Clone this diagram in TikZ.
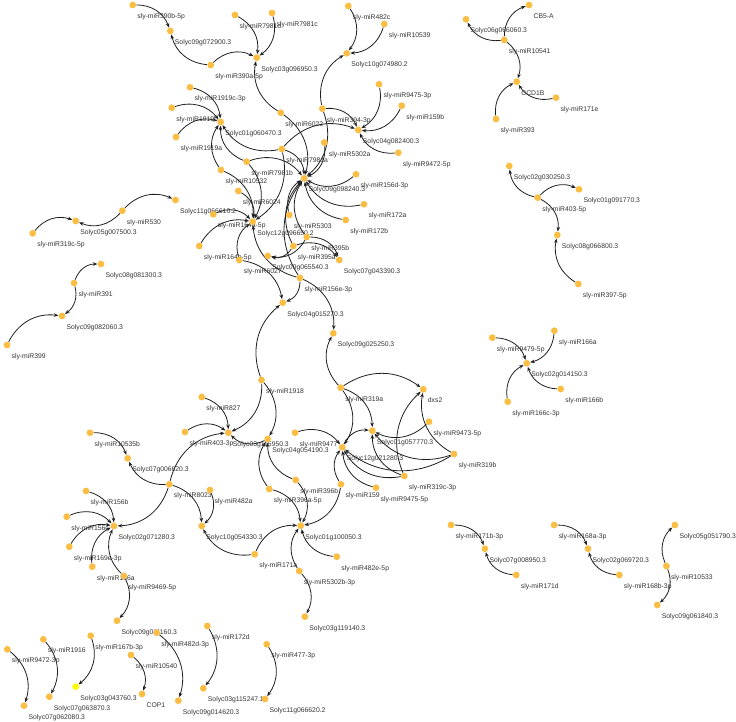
\documentclass[tikz,border=0pt]{standalone}
\usepackage{fontspec}
\newfontfamily\lblfont{Liberation Sans}
\usetikzlibrary{arrows.meta,backgrounds}
\definecolor{nodeor}{HTML}{FBBE45}
\definecolor{nodeyl}{HTML}{FFFF00}
\definecolor{lblc}{HTML}{333333}
\newcommand\vtx[4][v]{\node[#1,label={[lb]below right:#4}] (#2) at (#3) {};}
\begin{document}
\begin{tikzpicture}[x=1pt,y=-1pt,
  v/.style={circle,fill=nodeor,draw=none,inner sep=0pt,minimum size=6.8pt},
  vy/.style={v,fill=nodeyl},
  lb/.style={inner sep=0pt,label distance=0pt,xshift=1.9pt,yshift=-5.9pt,font=\lblfont\fontsize{6.8}{8}\selectfont,text=lblc},
  e/.style={-{Stealth[length=4.6pt,width=3.6pt]},line width=0.8pt,draw=black!88,bend left=35}]
\useasboundingbox (0,0) rectangle (736,722);
% top-left cluster
\vtx{m390b}{132.7,5}{sly-miR390b-5p}
\vtx{g09g072900}{170.3,31}{Solyc09g072900.3}
\vtx{m390a}{210.7,65}{sly-miR390a-5p}
\vtx{m7981d}{235,15}{sly-miR7981d}
\vtx{m7981c}{272,13}{sly-miR7981c}
\vtx{g03g096950}{256.7,57.7}{Solyc03g096950.3}
\vtx{m1919c}{190,87.3}{sly-miR1919c-3p}
\vtx{m1919b}{171.7,107.7}{sly-miR1919b}
\vtx{g01g060470}{220.7,122}{Solyc01g060470.3}
\vtx{m1919a}{176,137}{sly-miR1919a}
\vtx{m6022}{280.7,112.7}{sly-miR6022}
\vtx{m394}{322.3,108.7}{sly-miR394-3p}
\vtx{m482c}{348.3,6}{sly-miR482c}
\vtx{m10539}{384.3,24}{sly-miR10539}
\vtx{g10g074980}{346.7,53.3}{Solyc10g074980.2}
\vtx{m9475t}{379,84.3}{sly-miR9475-3p}
\vtx{m159b}{401.7,105.7}{sly-miR159b}
\vtx{g04g082400}{358.3,130}{Solyc04g082400.3}
\vtx{m9472f}{398.3,152.7}{sly-miR9472-5p}
\vtx{m5302a}{324.3,142.5}{sly-miR5302a}
\vtx{m7981a}{281.7,149}{sly-miR7981a}
\vtx{m7981b}{246.7,161.7}{sly-miR7981b}
\vtx{m10532}{221,170}{sly-miR10532}
\vtx{m6024}{238.3,191}{sly-miR6024}
\vtx{hA}{304.2,178.3}{Solyc09g098240.3}
\vtx{m156d}{356,174.3}{sly-miR156d-3p}
\vtx{m172a}{364,204.3}{sly-miR172a}
\vtx{m172b}{345.7,220}{sly-miR172b}
\vtx{g11g066610}{175.5,200}{Solyc11g066610.2}
\vtx{m164a}{213.3,214.3}{sly-miR164a-5p}
\vtx{hB}{252.7,221.7}{Solyc12g096650.2}
\vtx{m5303}{289.3,215}{sly-miR5303}
\vtx{m395b}{306.7,237}{sly-miR395b}
\vtx{m395a}{293.3,246}{sly-miR395a}
\vtx{g07g043390}{339.3,260}{Solyc07g043390.3}
\vtx{m164b}{199.3,246}{sly-miR164b-5p}
\vtx{m6027}{239.3,260}{sly-miR6027}
\vtx{g09g065540}{267.7,256}{Solyc09g065540.3}
\vtx{m156e}{300,278}{sly-miR156e-3p}
\vtx{g04g015270}{282.7,302.7}{Solyc04g015270.3}
\vtx{g09g025250}{333.3,333.3}{Solyc09g025250.3}
% left middle
\vtx{m530}{122.3,210.7}{sly-miR530}
\vtx{g05g007500}{75.7,221}{Solyc05g007500.3}
\vtx{m319cf}{32.7,233.3}{sly-miR319c-5p}
\vtx{g08g081300}{101,264}{Solyc08g081300.3}
\vtx{m391}{74,283}{sly-miR391}
\vtx{g09g082060}{62,316}{Solyc09g082060.3}
\vtx{m399}{7,345}{sly-miR399}
% centre
\vtx{g03gA}{228.3,432.7}{Solyc03g115950.3}
\vtx{g04g054190}{267.7,439}{Solyc04g054190.3}
\vtx{m1918}{261.5,380}{sly-miR1918}
\vtx{m827}{201.7,397}{sly-miR827}
\vtx{m403t}{185,432}{sly-miR403-3p}
\vtx{m319a}{340.7,387.7}{sly-miR319a}
\vtx{dxs}{423.3,389.3}{dxs2}
\vtx{g01g057770}{372.3,430.7}{Solyc01g057770.3}
\vtx{m9473}{429,421.7}{sly-miR9473-5p}
\vtx{m9477}{295,432.7}{sly-miR9477}
\vtx{g12g021280}{342.3,447.3}{Solyc12g021280.3}
\vtx{m319b}{454,454}{sly-miR319b}
\vtx{m319ct}{404.3,476}{sly-miR319c-3p}
\vtx{m9475f}{376,487.7}{sly-miR9475-5p}
\vtx{m159}{341,484.3}{sly-miR159}
\vtx{m396b}{295.7,480}{sly-miR396b}
\vtx{m396a}{269.3,489}{sly-miR396a-5p}
\vtx{g01g100050}{300.7,525.7}{Solyc01g100050.3}
\vtx{m171a}{254.7,554.3}{sly-miR171a}
\vtx{m5302b}{299.2,571}{sly-miR5302b-3p}
\vtx{g03g119140}{304.8,616.7}{Solyc03g119140.3}
\vtx{m482e}{336.8,556.7}{sly-miR482e-5p}
% lower left
\vtx{m10535b}{90,432.7}{sly-miR10535b}
\vtx{g07g006620}{127.7,458.3}{Solyc07g006620.3}
\vtx{m8023}{169.3,484.3}{sly-miR8023}
\vtx{m482a}{210,490}{sly-miR482a}
\vtx{g10g054330}{201.7,526}{Solyc10g054330.3}
\vtx{m156b}{86,491}{sly-miR156b}
\vtx{m156c}{66.7,516.7}{sly-miR156c}
\vtx{g02g071280}{114,526}{Solyc02g071280.3}
\vtx{m169e}{69.3,546.7}{sly-miR169e-3p}
\vtx{m156a}{92.3,566.7}{sly-miR156a}
\vtx{m9469}{124,576}{sly-miR9469-5p}
\vtx{g09g011160}{117,620.7}{Solyc09g011160.3}
% bottom
\vtx{m482d}{156.7,632.7}{sly-miR482d-3p}
\vtx{m172d}{207.3,626}{sly-miR172d}
\vtx{m477}{266.7,644.3}{sly-miR477-3p}
\vtx{m9472t}{7.3,649.3}{sly-miR9472-3p}
\vtx{m1916}{43.3,639.3}{sly-miR1916}
\vtx{m167b}{90.7,635.7}{sly-miR167b-3p}
\vtx{m10540}{131,655}{sly-miR10540}
\vtx[vy]{g03g043760}{75.7,686.7}{Solyc03g043760.3}
\vtx{cop}{142,694}{COP1}
\vtx{g09g014620}{178.3,700.7}{Solyc09g014620.3}
\vtx{g03g115247}{203.3,688.3}{Solyc03g115247.1}
\vtx{g11g066620}{265,699}{Solyc11g066620.2}
\vtx{g07g063870}{49.3,696.7}{Solyc07g063870.3}
\vtx{g07g062080}{24,705.7}{Solyc07g062080.3}
% bottom right
\vtx{m171b}{451,525}{sly-miR171b-3p}
\vtx{g07g008950}{484.9,548.7}{Solyc07g008950.3}
\vtx{m171d}{516.2,575}{sly-miR171d}
\vtx{m168a}{554.1,525}{sly-miR168a-3p}
\vtx{g02g069720}{588,548.7}{Solyc02g069720.3}
\vtx{m168b}{619.3,575}{sly-miR168b-3p}
\vtx{g05g051790}{674.9,525}{Solyc05g051790.3}
\vtx{m10533}{666.4,566}{sly-miR10533}
\vtx{g09g061840}{657.2,605}{Solyc09g061840.3}
% right middle
\vtx{g02g030250}{509.3,166}{Solyc02g030250.3}
\vtx{g01g091770}{579,189.3}{Solyc01g091770.3}
\vtx{m403f}{537.7,197.7}{sly-miR403-5p}
\vtx{g08g066800}{557.3,235}{Solyc08g066800.3}
\vtx{m397}{578.3,284}{sly-miR397-5p}
\vtx{m9479}{492.3,337.7}{sly-miR9479-5p}
\vtx{m166a}{554.3,330.7}{sly-miR166a}
\vtx{g02g014150}{526.7,363.3}{Solyc02g014150.3}
\vtx{m166b}{560.7,389}{sly-miR166b}
\vtx{m166c}{507.7,401.7}{sly-miR166c-3p}
% top right
\vtx{g06g066060}{466,19.3}{Solyc06g066060.3}
\vtx{cbfa}{529,5}{CB5-A}
\vtx{m10541}{504.3,40}{sly-miR10541}
\vtx{ccd}{516.7,81.7}{CCD1B}
\vtx{m171e}{556,97.7}{sly-miR171e}
\vtx{m393}{496,119}{sly-miR393}
\begin{scope}[on background layer]
\foreach \s/\t in {m390b/g09g072900, m390a/g09g072900, m390a/g03g096950, m7981d/g03g096950,
  m7981c/g03g096950, m6022/g03g096950, m1919c/g01g060470, m1919b/g01g060470, m1919a/g01g060470,
  m7981a/g01g060470, m7981b/g01g060470, m10532/g01g060470, m482c/g10g074980, m10539/g10g074980,
  m394/g10g074980, m394/g04g082400, m9475t/g04g082400, m159b/g04g082400, m9472f/g04g082400,
  m7981a/g04g082400, m7981a/hA, m7981b/hA, m6022/hA, m394/hA, m5302a/hA, m156d/hA, m172a/hA,
  m172b/hA, m5303/hA, m395a/hA, m395b/hA, m156e/hA, m10532/hB, m6024/hB, m7981b/hB, m7981a/hB,
  m164a/hB, m164b/hB, m6027/hB, m156e/hB, m395a/g09g065540, m395b/g09g065540, m395a/g07g043390,
  m395b/g07g043390, m156e/g04g015270, m6027/g04g015270, m1918/g04g015270, m156e/g09g025250,
  m319a/g09g025250, m530/g11g066610, m530/g05g007500, m319cf/g05g007500, m391/g08g081300,
  m391/g09g082060, m399/g09g082060, m1918/g03gA, m827/g03gA, m403t/g03gA, m8023/g03gA,
  m1918/g04g054190, m396a/g04g054190, m396b/g04g054190, g04g054190/g03gA, m319a/dxs, m319ct/dxs,
  m319b/dxs, m319a/g01g057770, m9473/g01g057770, m319b/g01g057770, m319ct/g01g057770,
  g12g021280/g01g057770, m9477/g12g021280, m319a/g12g021280, m319ct/g12g021280, m319b/g12g021280,
  m9475f/g12g021280, m159/g12g021280, m396a/g01g100050, m396b/g01g100050, m159/g01g100050,
  m171a/g01g100050, m482e/g01g100050, m5302b/g01g100050, m5302b/g03g119140, m10535b/g07g006620,
  m8023/g07g006620, m8023/g02g071280, m8023/g10g054330, m482a/g10g054330, m171a/g10g054330,
  m156b/g02g071280, m156c/g02g071280, m169e/g02g071280, m156a/g02g071280, m9469/g02g071280,
  m9469/g09g011160, m9472t/g07g062080, m1916/g07g063870, m167b/g03g043760, m10540/cop,
  m482d/g09g014620, m172d/g03g115247, m477/g11g066620, m171b/g07g008950, m171d/g07g008950,
  m168a/g02g069720, m168b/g02g069720, m10533/g05g051790, m10533/g09g061840, m403f/g02g030250,
  m403f/g01g091770, m403f/g08g066800, m397/g08g066800, m9479/g02g014150, m166a/g02g014150,
  m166b/g02g014150, m166c/g02g014150, m10541/g06g066060, m10541/cbfa, m10541/ccd, m171e/ccd,
  m393/ccd}
  \draw[e] (\s) to (\t);
\end{scope}
\end{tikzpicture}
\end{document}
